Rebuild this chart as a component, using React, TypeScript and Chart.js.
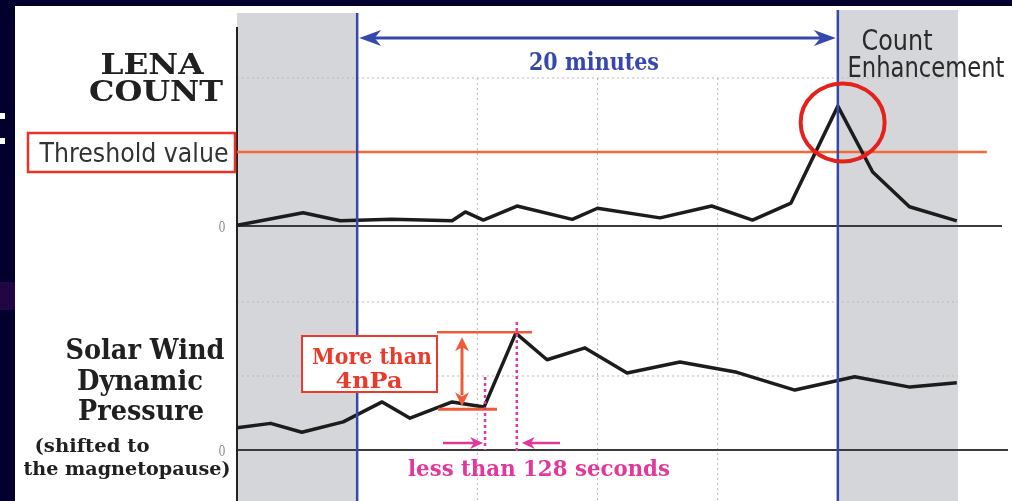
import React, { useEffect, useRef } from 'react';
import { Chart, registerables } from 'chart.js';

Chart.register(...registerables);

// ---- data (x in minutes, 0 = start of the 20-minute window) ----
const lenaTime = [-5, -2.25, -0.7, 1.45, 3.95, 4.5, 5.25, 6.65, 8.95, 10.0, 12.6, 14.75, 16.45, 18.05, 20, 21.45, 22.98, 24.95];
const lenaCount = [0.01, 0.18, 0.07, 0.09, 0.07, 0.19, 0.08, 0.27, 0.09, 0.24, 0.11, 0.27, 0.08, 0.31, 1.62, 0.73, 0.26, 0.07];

const windTime = [-5, -3.6, -2.3, -0.58, 1.04, 2.2, 3.95, 5.28, 6.6, 7.9, 9.48, 11.23, 13.43, 15.8, 18.21, 20.7, 23.0, 24.95];
const windPressure = [0.3, 0.36, 0.24, 0.38, 0.65, 0.43, 0.65, 0.58, 1.58, 1.22, 1.38, 1.04, 1.19, 1.05, 0.81, 0.99, 0.85, 0.91];

const thresholdValue = 1.0;
const thresholdSpan = [-5, 26.2];
const timeRange = [-5, 25];
const windowRange = [0, 20];
const gridTimes = [5, 10, 15];
const lenaGrid = [2];
const windGrid = [1, 2];
const zeroTickLabel = '0';
const riseLow = 0.55;
const riseHigh = 1.59;
const peakCircle = { x: 20.2, y: 1.4 };

const W = 1012;
const H = 501;
const PAD_LEFT = 237;
const PAD_RIGHT = 54;
const PAD_TOP = 10;
const PX_PER_UNIT = 74;
const TOP_ZERO = 226;
const BOT_ZERO = 450;

function fitText(ctx: CanvasRenderingContext2D, text: string, cx: number, baseline: number, font: string, color: string, width: number) {
  ctx.save();
  ctx.font = font;
  ctx.fillStyle = color;
  ctx.textAlign = 'center';
  ctx.textBaseline = 'alphabetic';
  const w = ctx.measureText(text).width;
  const s = w > 0 ? width / w : 1;
  ctx.translate(cx, baseline);
  ctx.scale(s, 1);
  ctx.fillText(text, 0, 0);
  ctx.restore();
}

function arrowHead(ctx: CanvasRenderingContext2D, tx: number, ty: number, dx: number, dy: number, len: number, half: number) {
  const bx = tx - dx * len;
  const by = ty - dy * len;
  ctx.beginPath();
  ctx.moveTo(tx, ty);
  ctx.lineTo(bx - dy * half, by + dx * half);
  ctx.lineTo(tx - dx * len * 0.7, ty - dy * len * 0.7);
  ctx.lineTo(bx + dy * half, by - dx * half);
  ctx.closePath();
  ctx.fill();
}

function line(ctx: CanvasRenderingContext2D, x1: number, y1: number, x2: number, y2: number) {
  ctx.beginPath();
  ctx.moveTo(x1, y1);
  ctx.lineTo(x2, y2);
  ctx.stroke();
}

const diagramPlugin = {
  id: 'diagram',
  beforeDraw(chart: any) {
    const { ctx, scales } = chart;
    const x = scales.x;
    const yT = scales.yTop;
    const yB = scales.yBot;
    ctx.save();
    // dark slide background
    ctx.fillStyle = '#03002e';
    ctx.fillRect(0, 0, W, H);
    ctx.fillStyle = '#220543';
    ctx.fillRect(0, 282, 15, 28);
    ctx.fillStyle = '#ffffff';
    ctx.fillRect(0, 113, 5, 6);
    ctx.fillRect(0, 138, 5, 6);
    // white panel
    ctx.fillRect(15, 6, W - 15, H - 6);

    // gray bands
    ctx.fillStyle = '#d5d6d9';
    const l0 = x.getPixelForValue(timeRange[0]);
    const l1 = x.getPixelForValue(windowRange[0]);
    const r0 = x.getPixelForValue(windowRange[1]);
    const r1 = x.getPixelForValue(timeRange[1]);
    ctx.fillRect(l0, 13, l1 - l0, H - 13);
    ctx.fillRect(r0, 10, r1 - r0, H - 10);

    // dotted grid
    ctx.strokeStyle = '#b9b9bd';
    ctx.lineWidth = 1;
    ctx.setLineDash([2, 3]);
    const gridTop = yT.getPixelForValue(lenaGrid[0]);
    lenaGrid.forEach((v) => line(ctx, l0, yT.getPixelForValue(v), r1, yT.getPixelForValue(v)));
    windGrid.forEach((v) => line(ctx, l0, yB.getPixelForValue(v), r1, yB.getPixelForValue(v)));
    gridTimes.forEach((t) => line(ctx, x.getPixelForValue(t), gridTop, x.getPixelForValue(t), H));
    ctx.setLineDash([]);

    // zero lines
    ctx.strokeStyle = '#3a3a3a';
    ctx.lineWidth = 2;
    const zt = yT.getPixelForValue(0);
    const zb = yB.getPixelForValue(0);
    line(ctx, l0, zt, 1002, zt);
    line(ctx, l0, zb, 1008, zb);
    // vertical axis
    ctx.strokeStyle = '#222';
    line(ctx, l0, 27, l0, H);

    // zero tick labels
    fitText(ctx, zeroTickLabel, 222, zt + 6, '15px "DejaVu Serif"', '#8a8a8a', 7);
    fitText(ctx, zeroTickLabel, 222, zb + 6, '15px "DejaVu Serif"', '#8a8a8a', 7);
    ctx.restore();
  },
  afterDatasetsDraw(chart: any) {
    const { ctx, scales } = chart;
    const x = scales.x;
    const yT = scales.yTop;
    const yB = scales.yBot;
    ctx.save();

    // blue window lines and arrow
    const blue = '#3748ad';
    const bx0 = x.getPixelForValue(windowRange[0]);
    const bx1 = x.getPixelForValue(windowRange[1]);
    ctx.strokeStyle = blue;
    ctx.fillStyle = blue;
    ctx.lineWidth = 2.5;
    line(ctx, bx0, 13, bx0, H);
    line(ctx, bx1, 10, bx1, H);
    ctx.lineWidth = 3;
    line(ctx, bx0 + 10, 38, bx1 - 10, 38);
    arrowHead(ctx, bx0 + 2, 38, -1, 0, 22, 8);
    arrowHead(ctx, bx1 - 2, 38, 1, 0, 22, 8);
    fitText(ctx, '20 minutes', 594, 70, 'bold 25px "DejaVu Serif"', blue, 130);

    // red circle around the count peak
    ctx.strokeStyle = '#e4221c';
    ctx.lineWidth = 4;
    ctx.beginPath();
    ctx.ellipse(x.getPixelForValue(peakCircle.x), yT.getPixelForValue(peakCircle.y), 42, 39, 0, 0, Math.PI * 2);
    ctx.stroke();

    // "More than 4nPa" annotation
    const red = '#ea3a2c';
    const orange = '#ef5a3a';
    const low = yB.getPixelForValue(riseLow);
    const high = yB.getPixelForValue(riseHigh);
    ctx.strokeStyle = red;
    ctx.lineWidth = 2;
    ctx.fillStyle = '#ffffff';
    ctx.fillRect(302, 336, 135, 56);
    ctx.strokeRect(302, 336, 135, 56);
    ctx.strokeStyle = orange;
    ctx.lineWidth = 2.5;
    line(ctx, 437, high, 532, high);
    ctx.lineWidth = 3;
    line(ctx, 438, low, 497, low);
    ctx.fillStyle = orange;
    ctx.lineWidth = 3;
    line(ctx, 462, high + 14, 462, low - 14);
    arrowHead(ctx, 462, high + 5, 0, -1, 14, 7);
    arrowHead(ctx, 462, low - 3, 0, 1, 14, 7);
    fitText(ctx, 'More than', 372, 364, 'bold 23px "DejaVu Serif"', red, 120);
    fitText(ctx, '4nPa', 369, 388, 'bold 23px "DejaVu Serif"', red, 67);

    // "less than 128 seconds" annotation
    const pink = '#e2379b';
    const p0 = x.getPixelForValue(windTime[7]);
    const p1 = x.getPixelForValue(windTime[8]);
    ctx.strokeStyle = pink;
    ctx.fillStyle = pink;
    ctx.lineWidth = 2.5;
    ctx.setLineDash([3, 3]);
    line(ctx, p0 + 1, 377, p0 + 1, 450);
    line(ctx, p1 + 1, 322, p1 + 1, 453);
    ctx.setLineDash([]);
    ctx.lineWidth = 2.5;
    line(ctx, 443, 443, 476, 443);
    arrowHead(ctx, p0 - 1, 443, 1, 0, 13, 6);
    line(ctx, 560, 443, 528, 443);
    arrowHead(ctx, p1 + 6, 443, -1, 0, 13, 6);
    fitText(ctx, 'less than 128 seconds', 539, 476, 'bold 23px "DejaVu Serif"', pink, 262);

    ctx.restore();
  },
  afterDraw(chart: any) {
    const { ctx } = chart;
    ctx.save();
    // threshold label box
    ctx.strokeStyle = '#e8322a';
    ctx.lineWidth = 2.5;
    ctx.strokeRect(28, 133, 207, 39);
    fitText(ctx, 'Threshold value', 134, 162, '27px "DejaVu Sans"', '#333', 189);

    // panel titles
    const dark = '#202020';
    fitText(ctx, 'LENA', 152, 74, 'bold 28px "DejaVu Serif"', dark, 103);
    fitText(ctx, 'COUNT', 156, 101, 'bold 28px "DejaVu Serif"', dark, 134);
    fitText(ctx, 'Solar Wind', 145, 359, 'bold 27px "DejaVu Serif"', dark, 159);
    fitText(ctx, 'Dynamic', 140, 390, 'bold 27px "DejaVu Serif"', dark, 126);
    fitText(ctx, 'Pressure', 141, 420, 'bold 27px "DejaVu Serif"', dark, 126);
    fitText(ctx, '(shifted to', 92, 452, 'bold 18px "DejaVu Serif"', dark, 115);
    fitText(ctx, 'the magnetopause)', 127, 475, 'bold 18px "DejaVu Serif"', dark, 207);

    // count enhancement label
    fitText(ctx, 'Count', 897, 50, '29px "DejaVu Sans"', '#2a2a2a', 71);
    fitText(ctx, 'Enhancement', 926, 77, '29px "DejaVu Sans"', '#2a2a2a', 157);
    ctx.restore();
  },
};

export default function App() {
  const canvasRef = useRef<HTMLCanvasElement | null>(null);

  useEffect(() => {
    document.body.style.margin = '0';
    const canvas = canvasRef.current;
    if (!canvas) return;
    const chart = new Chart(canvas, {
      type: 'line',
      data: {
        datasets: [
          {
            label: 'LENA count',
            data: lenaTime.map((t, i) => ({ x: t, y: lenaCount[i] })),
            yAxisID: 'yTop',
            borderColor: '#1c1c1c',
            borderWidth: 3.5,
            pointRadius: 0,
            tension: 0,
            borderJoinStyle: 'round',
          },
          {
            label: 'Solar wind dynamic pressure',
            data: windTime.map((t, i) => ({ x: t, y: windPressure[i] })),
            yAxisID: 'yBot',
            borderColor: '#1c1c1c',
            borderWidth: 3.5,
            pointRadius: 0,
            tension: 0,
            borderJoinStyle: 'round',
          },
          {
            label: 'Threshold value',
            data: thresholdSpan.map((t) => ({ x: t, y: thresholdValue })),
            yAxisID: 'yTop',
            borderColor: '#f26a3a',
            borderWidth: 2.5,
            pointRadius: 0,
            clip: false,
            order: 1,
          },
        ],
      } as any,
      options: {
        responsive: false,
        animation: false,
        devicePixelRatio: 1,
        events: [],
        layout: { padding: { left: PAD_LEFT, right: PAD_RIGHT, top: PAD_TOP, bottom: 0 } },
        scales: {
          x: { type: 'linear', min: timeRange[0], max: timeRange[1], display: false },
          yTop: {
            type: 'linear',
            position: 'left',
            min: -(H - TOP_ZERO) / PX_PER_UNIT,
            max: (TOP_ZERO - PAD_TOP) / PX_PER_UNIT,
            display: false,
          },
          yBot: {
            type: 'linear',
            position: 'left',
            min: -(H - BOT_ZERO) / PX_PER_UNIT,
            max: (BOT_ZERO - PAD_TOP) / PX_PER_UNIT,
            display: false,
          },
        },
        plugins: {
          legend: { display: false },
          tooltip: { enabled: false },
        },
      } as any,
      plugins: [diagramPlugin],
    });
    return () => chart.destroy();
  }, []);

  return (
    <div style={{ position: 'fixed', left: 0, top: 0, width: W, height: H, background: '#03002e' }}>
      <canvas ref={canvasRef} width={W} height={H} style={{ display: 'block', width: W, height: H }} />
    </div>
  );
}
